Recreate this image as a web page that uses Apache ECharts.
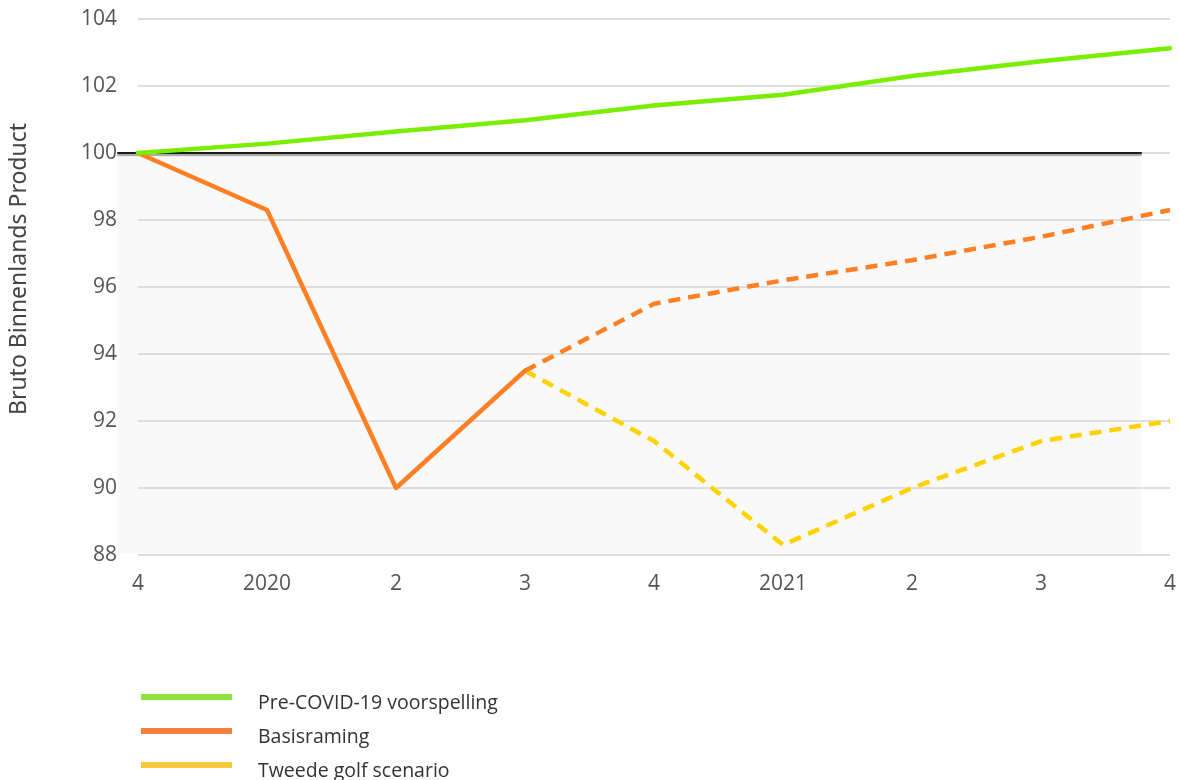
<!DOCTYPE html>
<html>
<head>
<meta charset="utf-8">
<script src="https://cdn.jsdelivr.net/npm/echarts@6/dist/echarts.min.js"></script>
<style>
  html, body { margin: 0; padding: 0; background: #ffffff; }
  #chart { width: 1179px; height: 780px; }
</style>
</head>
<body>
<div id="chart"></div>
<script>
// Quarters from Q4 2019 to Q4 2021
const quarters = ['4', '2020', '2', '3', '4', '2021', '2', '3', '4'];
const yTicks = { min: 88, max: 104, step: 2 };

// GDP index, Q4 2019 = 100
const preCovid   = [100, 100.28, 100.64, 100.98, 101.42, 101.74, 102.3, 102.74, 103.13];
const basisReal  = [100, 98.3, 90.0, 93.5, null, null, null, null, null];
const basisProj  = [null, null, null, 93.5, 95.5, 96.2, 96.8, 97.5, 98.3];
const tweedeGolf = [null, null, null, 93.5, 91.4, 88.3, 90.0, 91.4, 92.0];

const seriesNames = ['Pre-COVID-19 voorspelling', 'Basisraming', 'Tweede golf scenario'];
const lineColors = ['#7aee00', '#ff7f24', '#ffd200'];
const legendColors = ['#8be43e', '#f5803f', '#f9c93c'];

const chart = echarts.init(document.getElementById('chart'));

const font = '"Open Sans", "Noto Sans", sans-serif';

chart.setOption({
  animation: false,
  backgroundColor: '#ffffff',
  grid: [
    // shaded band below the 100 baseline
    { left: 118, right: 38, top: 153, bottom: 227, show: true, backgroundColor: '#f9f9f9', borderWidth: 0 },
    // main plot area
    { left: 138, right: 9, top: 19, bottom: 225 }
  ],
  xAxis: [
    {
      gridIndex: 0, type: 'value', position: 'top', min: 0, max: 1,
      axisLine: { show: true, onZero: false, lineStyle: { color: '#1a1a1a', width: 2, shadowColor: 'rgba(0,0,0,0.35)', shadowOffsetY: 2, shadowBlur: 1 } },
      axisTick: { show: false }, axisLabel: { show: false }, splitLine: { show: false }
    },
    {
      gridIndex: 1, type: 'category', data: quarters, boundaryGap: false,
      axisLine: { show: false }, axisTick: { show: false },
      axisLabel: { color: '#555555', fontSize: 21, fontFamily: font, margin: 19 },
      splitLine: { show: false }
    }
  ],
  yAxis: [
    {
      gridIndex: 0, type: 'value', show: false, min: 0, max: 1
    },
    {
      gridIndex: 1, type: 'value', min: yTicks.min, max: yTicks.max, interval: yTicks.step,
      axisLine: { show: false }, axisTick: { show: false },
      axisLabel: { color: '#555555', fontSize: 21, fontFamily: font, margin: 21 },
      splitLine: { lineStyle: { color: '#dedede', width: 2 } }
    }
  ],
  graphic: [
    {
      type: 'text', x: 19, y: 269, rotation: Math.PI / 2,
      style: {
        text: 'Bruto Binnenlands Product', fill: '#444444',
        font: '23px "Noto Sans", "Open Sans", sans-serif',
        textAlign: 'center', textVerticalAlign: 'middle'
      }
    }
  ],
  legend: {
    orient: 'vertical', left: 141, top: 681, height: 120, padding: 0,
    itemWidth: 91, itemHeight: 6, itemGap: 2, icon: 'rect',
    // an empty first line drops each label slightly below its swatch
    formatter: name => '\n' + name,
    textStyle: { color: '#333333', fontSize: 19.5, fontFamily: font, lineHeight: 12, padding: [0, 0, 0, 21] },
    data: seriesNames.map((n, i) => ({ name: n, itemStyle: { color: legendColors[i] } }))
  },
  series: [
    {
      name: seriesNames[0], type: 'line', xAxisIndex: 1, yAxisIndex: 1, data: preCovid,
      showSymbol: false, symbol: 'none', z: 4,
      lineStyle: { color: lineColors[0], width: 4.5, cap: 'round', join: 'round' },
      itemStyle: { color: lineColors[0] }
    },
    {
      name: seriesNames[1], type: 'line', xAxisIndex: 1, yAxisIndex: 1, data: basisReal,
      showSymbol: false, symbol: 'none', z: 3,
      lineStyle: { color: lineColors[1], width: 4.5, cap: 'round', join: 'round' },
      itemStyle: { color: lineColors[1] }
    },
    {
      name: seriesNames[1], type: 'line', xAxisIndex: 1, yAxisIndex: 1, data: basisProj,
      showSymbol: false, symbol: 'none', z: 3,
      lineStyle: { color: lineColors[1], width: 4.5, type: [12, 8], join: 'round' },
      itemStyle: { color: lineColors[1] }
    },
    {
      name: seriesNames[2], type: 'line', xAxisIndex: 1, yAxisIndex: 1, data: tweedeGolf,
      showSymbol: false, symbol: 'none', z: 2,
      lineStyle: { color: lineColors[2], width: 4.5, type: [12, 8], join: 'round' },
      itemStyle: { color: lineColors[2] }
    }
  ]
});
</script>
</body>
</html>
